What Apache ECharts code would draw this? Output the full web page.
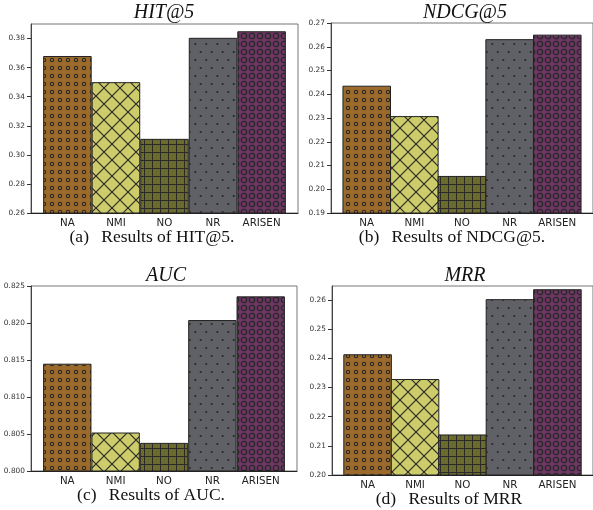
<!DOCTYPE html>
<html>
<head>
<meta charset="utf-8">
<script src="https://cdn.jsdelivr.net/npm/echarts@6/dist/echarts.min.js"></script>
<style>
html,body{margin:0;padding:0;background:#fff;}
#chart{width:593px;height:510px;}
</style>
</head>
<body>
<div id="chart"></div>
<script>
// ---------- data ----------
const categories = ['NA', 'NMI', 'NO', 'NR', 'ARISEN'];
const hitValues  = [0.368, 0.350, 0.311, 0.3805, 0.385];
const ndcgValues = [0.2436, 0.2308, 0.2056, 0.2632, 0.2651];
const aucValues  = [0.8145, 0.8052, 0.8038, 0.8204, 0.8236];
const mrrValues  = [0.2414, 0.2329, 0.2139, 0.2603, 0.2637];

const hitTicks  = [0.26, 0.28, 0.30, 0.32, 0.34, 0.36, 0.38];
const ndcgTicks = [0.19, 0.20, 0.21, 0.22, 0.23, 0.24, 0.25, 0.26, 0.27];
const aucTicks  = [0.800, 0.805, 0.810, 0.815, 0.820, 0.825];
const mrrTicks  = [0.20, 0.21, 0.22, 0.23, 0.24, 0.25, 0.26];

const hitRange  = [0.26, 0.39];
const ndcgRange = [0.19, 0.27];
const aucRange  = [0.800, 0.825];
const mrrRange  = [0.20, 0.2648];

const panelTitles = ['HIT@5', 'NDCG@5', 'AUC', 'MRR'];
const captions = ['(a)\u2002\u2009Results of HIT@5.', '(b)\u2002\u2009Results of NDCG@5.',
                  '(c)\u2002\u2009Results of AUC.', '(d)\u2002\u2009Results of MRR'];

// ---------- hatch patterns ----------
const HATCH = '#2a2a2a';
function tile(w, h, bg, draw) {
  const c = document.createElement('canvas');
  c.width = w; c.height = h;
  const ctx = c.getContext('2d');
  ctx.fillStyle = bg; ctx.fillRect(0, 0, w, h);
  ctx.strokeStyle = HATCH; ctx.fillStyle = HATCH;
  draw(ctx, w, h);
  return { image: c, repeat: 'repeat' };
}
const patterns = [
  tile(8, 8, '#9c6b2b', (ctx) => { ctx.lineWidth = 1.1; ctx.beginPath(); ctx.arc(4, 4, 1.7, 0, Math.PI * 2); ctx.stroke(); }),
  tile(16, 16, '#cdcc6a', (ctx) => { ctx.lineWidth = 1.2; ctx.beginPath();
    ctx.moveTo(-2, -2); ctx.lineTo(18, 18); ctx.moveTo(18, -2); ctx.lineTo(-2, 18); ctx.stroke(); }),
  tile(8, 8, '#6b6b30', (ctx) => { ctx.lineWidth = 1; ctx.beginPath();
    ctx.moveTo(0.5, 0); ctx.lineTo(0.5, 8); ctx.moveTo(0, 0.5); ctx.lineTo(8, 0.5); ctx.stroke(); }),
  tile(11, 16, '#606166', (ctx) => { ctx.beginPath(); ctx.arc(2.75, 4, 1.1, 0, Math.PI * 2); ctx.fill();
    ctx.beginPath(); ctx.arc(8.25, 12, 1.1, 0, Math.PI * 2); ctx.fill(); }),
  tile(8, 8, '#6d3663', (ctx) => { ctx.lineWidth = 1.3; ctx.beginPath(); ctx.arc(4, 4, 2.7, 0, Math.PI * 2); ctx.stroke(); })
];

// ---------- layout ----------
const panels = [
  { values: hitValues,  ticks: hitTicks,  range: hitRange,  dec: 2, grid: { left: 31,  top: 24,  width: 267, height: 189 }, title: [164, 13],  cap: [152, 237] },
  { values: ndcgValues, ticks: ndcgTicks, range: ndcgRange, dec: 2, grid: { left: 331, top: 23,  width: 267, height: 190 }, title: [465, 13],  cap: [452, 237] },
  { values: aucValues,  ticks: aucTicks,  range: aucRange,  dec: 3, grid: { left: 31,  top: 286, width: 266, height: 185 }, title: [166, 276], cap: [151, 495] },
  { values: mrrValues,  ticks: mrrTicks,  range: mrrRange,  dec: 2, grid: { left: 332, top: 286, width: 267, height: 189 }, title: [465, 276], cap: [449, 499] }
];
const catIdx = categories.map((_, i) => i);

const option = {
  animation: false,
  backgroundColor: '#fff',
  grid: [], xAxis: [], yAxis: [], series: [], graphic: []
};

panels.forEach((p, k) => {
  option.grid.push(Object.assign({ show: true, borderColor: '#777', borderWidth: 1, backgroundColor: 'transparent' }, p.grid));
  option.xAxis.push({
    type: 'value', gridIndex: k, min: -0.75, max: 4.75,
    splitLine: { show: false },
    axisLine: { show: true, onZero: false, lineStyle: { color: '#222', width: 1 } },
    axisTick: { show: false },
    axisLabel: { customValues: catIdx, formatter: (v) => categories[Math.round(v)] || '',
      fontFamily: 'DejaVu Sans', fontSize: 10.3, color: '#222', margin: 4, lineHeight: 12 }
  });
  option.yAxis.push({
    type: 'value', gridIndex: k, min: p.range[0], max: p.range[1],
    splitLine: { show: false },
    axisLine: { show: true, onZero: false, lineStyle: { color: '#444', width: 1 } },
    axisTick: { show: true, customValues: p.ticks, length: 4, lineStyle: { color: '#333' } },
    axisLabel: { customValues: p.ticks, formatter: (v) => v.toFixed(p.dec),
      fontFamily: 'DejaVu Sans', fontSize: 7.4, color: '#333', margin: 6 }
  });
  option.series.push({
    type: 'bar', xAxisIndex: k, yAxisIndex: k,
    barWidth: p.grid.width / 5.5,
    data: p.values.map((v, i) => ({ value: [i, v], itemStyle: { color: patterns[i] } })),
    itemStyle: { borderColor: '#222', borderWidth: 1 },
    clip: true
  });
  option.graphic.push({
    type: 'text', x: p.title[0], y: p.title[1], z: 10,
    style: { text: panelTitles[k], font: 'italic 20px "Liberation Serif"', fill: '#111', align: 'center', verticalAlign: 'middle' }
  });
  option.graphic.push({
    type: 'text', x: p.cap[0], y: p.cap[1], z: 10,
    style: { text: captions[k], font: '17.5px "Liberation Serif"', fill: '#111', align: 'center', verticalAlign: 'middle' }
  });
});

const chart = echarts.init(document.getElementById('chart'), null, { renderer: 'canvas', width: 593, height: 510 });
chart.setOption(option);
</script>
</body>
</html>
